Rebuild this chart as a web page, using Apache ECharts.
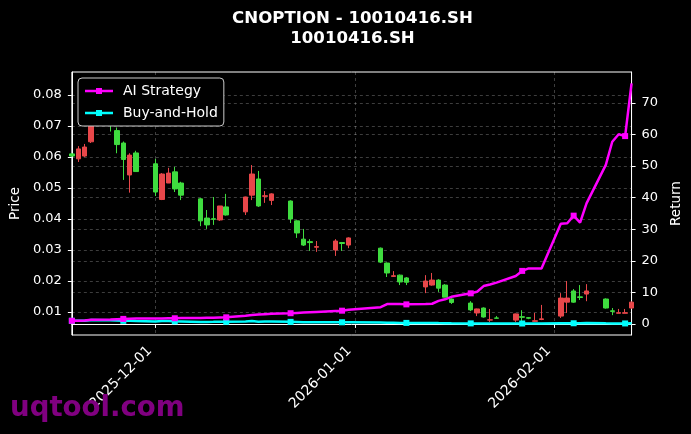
<!DOCTYPE html>
<html><head><meta charset="utf-8">
<script src="https://cdn.jsdelivr.net/npm/echarts@6/dist/echarts.min.js"></script>
<style>html,body{margin:0;padding:0;background:#000;}#c{width:691px;height:434px;}</style>
</head><body><div id="c"></div>
<script>
const dates = ['2025-11-18','2025-11-19','2025-11-20','2025-11-21','2025-11-24','2025-11-25','2025-11-26','2025-11-27','2025-11-28',
'2025-12-01','2025-12-02','2025-12-03','2025-12-04','2025-12-05','2025-12-08','2025-12-09','2025-12-10','2025-12-11','2025-12-12',
'2025-12-15','2025-12-16','2025-12-17','2025-12-18','2025-12-19','2025-12-22','2025-12-23','2025-12-24','2025-12-25','2025-12-26',
'2025-12-29','2025-12-30','2025-12-31','2026-01-05','2026-01-06','2026-01-07','2026-01-08','2026-01-09','2026-01-12','2026-01-13',
'2026-01-14','2026-01-15','2026-01-16','2026-01-19','2026-01-20','2026-01-21','2026-01-22','2026-01-23','2026-01-26','2026-01-27',
'2026-01-28','2026-01-29','2026-01-30','2026-02-02','2026-02-03','2026-02-04','2026-02-05','2026-02-06','2026-02-09','2026-02-10',
'2026-02-11','2026-02-12','2026-02-13'];
const openP  = [0.0610,0.0594,0.0603,0.0649,0.0760,0.0685,0.0645,0.0542,0.0613,0.0578,0.0463,0.0516,0.0552,0.0516,0.0465,0.0403,0.0401,0.0397,0.0439,0.0423,0.0477,0.0529,0.0473,0.0460,0.0458,0.0394,0.0335,0.0327,0.0309,0.0300,0.0324,0.0316,0.0306,0.0258,0.0215,0.0219,0.0210,0.0181,0.0187,0.0203,0.0187,0.0142,0.0129,0.0097,0.0113,0.0074,0.0081,0.0074,0.0085,0.0082,0.0070,0.0076,0.0087,0.0132,0.0168,0.0149,0.0158,0.0142,0.0104,0.0096,0.0096,0.0113];
const closeP = [0.0603,0.0626,0.0632,0.0774,0.0727,0.0640,0.0592,0.0606,0.0553,0.0487,0.0545,0.0548,0.0497,0.0477,0.0394,0.0381,0.0399,0.0442,0.0413,0.0471,0.0545,0.0442,0.0475,0.0481,0.0400,0.0355,0.0316,0.0324,0.0311,0.0329,0.0321,0.0339,0.0261,0.0226,0.0217,0.0197,0.0196,0.0200,0.0203,0.0177,0.0148,0.0131,0.0107,0.0110,0.0084,0.0075,0.0080,0.0094,0.0083,0.0080,0.0072,0.0078,0.0145,0.0145,0.0132,0.0147,0.0168,0.0113,0.0102,0.0098,0.0098,0.0132];
const lowP   = [0.0600,0.0584,0.0600,0.0645,0.0682,0.0612,0.0526,0.0485,0.0553,0.0474,0.0461,0.0516,0.0487,0.0461,0.0377,0.0368,0.0381,0.0394,0.0411,0.0413,0.0461,0.0439,0.0452,0.0445,0.0387,0.0339,0.0313,0.0297,0.0294,0.0281,0.0297,0.0306,0.0258,0.0213,0.0213,0.0187,0.0187,0.0161,0.0185,0.0165,0.0148,0.0126,0.0103,0.0087,0.0082,0.0068,0.0080,0.0068,0.0068,0.0077,0.0068,0.0074,0.0081,0.0097,0.0130,0.0139,0.0135,0.0111,0.0090,0.0096,0.0096,0.0111];
const highP  = [0.0612,0.0635,0.0642,0.0839,0.0830,0.0695,0.0650,0.0612,0.0620,0.0594,0.0548,0.0565,0.0568,0.0520,0.0468,0.0429,0.0471,0.0442,0.0481,0.0472,0.0574,0.0555,0.0490,0.0483,0.0460,0.0396,0.0368,0.0335,0.0329,0.0335,0.0326,0.0341,0.0308,0.0260,0.0232,0.0221,0.0213,0.0219,0.0226,0.0206,0.0190,0.0144,0.0135,0.0111,0.0115,0.0110,0.0087,0.0095,0.0106,0.0084,0.0097,0.0123,0.0161,0.0200,0.0174,0.0187,0.0190,0.0144,0.0113,0.0110,0.0110,0.0134];
const aiReturn = [1.0,1.0,1.1,1.3,1.4,1.5,1.6,1.65,1.7,1.7,1.75,1.8,1.8,1.85,1.9,2.0,2.0,2.05,2.1,2.6,2.8,3.0,3.1,3.2,3.4,3.5,3.6,3.7,3.8,4.1,4.2,4.5,5.3,6.3,6.3,6.3,6.2,6.3,6.4,7.3,7.8,8.6,9.7,10.2,12.0,12.5,13.1,15.2,16.8,17.6,17.6,17.6,31.7,31.9,34.3,32.1,38.2,50.4,57.7,60.1,59.5,76.2];
const bhReturn = [1.00,1.04,1.05,1.28,1.21,1.06,0.98,1.00,0.92,0.81,0.90,0.91,0.82,0.79,0.65,0.63,0.66,0.73,0.68,0.78,0.90,0.73,0.79,0.80,0.66,0.59,0.52,0.54,0.52,0.55,0.53,0.56,0.43,0.37,0.36,0.33,0.33,0.33,0.34,0.29,0.25,0.22,0.18,0.18,0.14,0.12,0.13,0.16,0.14,0.13,0.12,0.13,0.24,0.24,0.22,0.24,0.28,0.19,0.17,0.16,0.16,0.22];
const xTickDates = ['2025-12-01','2026-01-01','2026-02-01'];
const priceTicks = [0.01,0.02,0.03,0.04,0.05,0.06,0.07,0.08];
const returnTicks = [0,10,20,30,40,50,60,70];

function ts(s){const p=s.split('-').map(Number);return new Date(p[0],p[1]-1,p[2]).getTime();}
function fmt(v){const d=new Date(v);const m=d.getMonth()+1,dd=d.getDate();return d.getFullYear()+'-'+(m<10?'0':'')+m+'-'+(dd<10?'0':'')+dd;}

const FONT='DejaVu Sans';
const candleData = dates.map((d,i)=>[ts(d),openP[i],closeP[i],lowP[i],highP[i]]);
const aiData = dates.map((d,i)=>[ts(d),aiReturn[i]]);
const bhData = dates.map((d,i)=>[ts(d),bhReturn[i]]);
const markEvery = (v,p)=> (p.dataIndex%6===0?'rect':'none');
const gridDash = {show:true,lineStyle:{color:'rgba(255,255,255,0.3)',type:[3,3],width:0.8}};
const legIcon='path://M0,1.8L11,1.8L11,0L17,0L17,1.8L28,1.8L28,4.2L17,4.2L17,6L11,6L11,4.2L0,4.2Z';

const chart = echarts.init(document.getElementById('c'),null,{renderer:'canvas'});
chart.setOption({
  backgroundColor:'#000',
  animation:false,
  grid:{left:71,right:57,top:72,bottom:99,show:true,borderColor:'#fff',borderWidth:1,backgroundColor:'transparent'},
  graphic:[
    {type:'text',x:352.5,y:10,style:{text:'CNOPTION - 10010416.SH',fill:'#fff',font:'bold 16.6px '+FONT,textAlign:'center'}},
    {type:'text',x:352.5,y:30,style:{text:'10010416.SH',fill:'#fff',font:'bold 16.6px '+FONT,textAlign:'center'}},
    {type:'text',x:10,y:395,z:100,style:{text:'uqtool.com',fill:'#800080',font:'bold 27.6px '+FONT}}
  ],
  legend:{left:78,top:78,orient:'vertical',backgroundColor:'#000',borderColor:'#cccccc',borderWidth:1,borderRadius:4,
    padding:[6,6,6,7],itemGap:8,itemWidth:28,itemHeight:6,
    textStyle:{color:'#fff',fontSize:14,fontFamily:FONT,padding:[0,0,0,5]},
    data:[{name:'AI Strategy',icon:legIcon},{name:'Buy-and-Hold',icon:legIcon}]},
  xAxis:{type:'value',min:ts('2025-11-18'),max:ts('2026-02-13'),
    axisLine:{show:true,lineStyle:{color:'#fff'}},
    axisTick:{show:true,length:4,lineStyle:{color:'#fff'},customValues:xTickDates.map(ts)},
    axisLabel:{color:'#fff',fontSize:14,fontFamily:FONT,rotate:45,margin:8,padding:[0,8,0,0],customValues:xTickDates.map(ts),formatter:fmt},
    splitLine:gridDash},
  yAxis:[
    {type:'value',min:0.0026,max:0.0874,position:'left',name:'Price',nameLocation:'middle',nameRotate:90,nameGap:47,
     nameTextStyle:{color:'#fff',fontSize:13.5,fontFamily:FONT},
     axisLine:{show:true,lineStyle:{color:'#fff'}},
     axisTick:{show:true,length:4,lineStyle:{color:'#fff'},customValues:priceTicks},
     axisLabel:{color:'#fff',fontSize:13,fontFamily:FONT,margin:10,customValues:priceTicks,formatter:v=>v.toFixed(2)},
     splitLine:gridDash},
    {type:'value',min:-3.5,max:79.8,position:'right',name:'Return',nameLocation:'middle',nameRotate:90,nameGap:35,
     nameTextStyle:{color:'#fff',fontSize:13.5,fontFamily:FONT},
     axisLine:{show:true,lineStyle:{color:'#fff'}},
     axisTick:{show:true,length:4,lineStyle:{color:'#fff'},customValues:returnTicks},
     axisLabel:{color:'#fff',fontSize:13,fontFamily:FONT,margin:10,customValues:returnTicks,formatter:v=>String(v)},
     splitLine:gridDash}
  ],
  series:[
    {type:'candlestick',name:'Price',xAxisIndex:0,yAxisIndex:0,barWidth:5,data:candleData,z:2,
     itemStyle:{color:'#e8474a',color0:'#3fdc3f',borderColor:'#e8474a',borderColor0:'#3fdc3f',borderWidth:1}},
    {type:'line',name:'AI Strategy',yAxisIndex:1,data:aiData,symbol:markEvery,symbolSize:6,showAllSymbol:true,z:5,
     lineStyle:{color:'#ff00ff',width:2.5},itemStyle:{color:'#ff00ff'}},
    {type:'line',name:'Buy-and-Hold',yAxisIndex:1,data:bhData,symbol:markEvery,symbolSize:6,showAllSymbol:true,z:4,
     lineStyle:{color:'#00ffff',width:2.5},itemStyle:{color:'#00ffff'}}
  ]
});
</script></body></html>
